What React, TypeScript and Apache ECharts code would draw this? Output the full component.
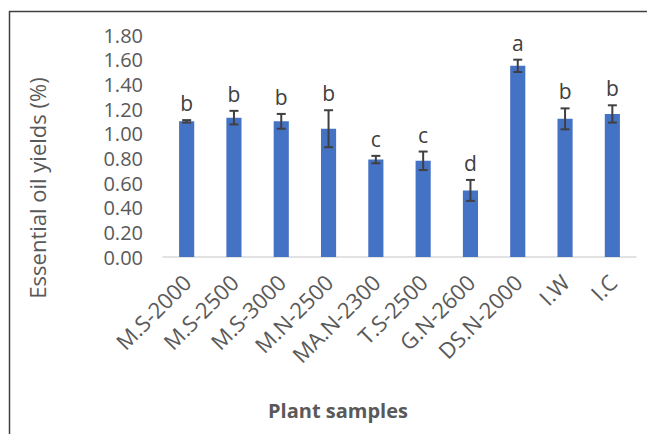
import React, { useEffect, useRef } from "react";
import * as echarts from "echarts";

const categories = ["M.S-2000", "M.S-2500", "M.S-3000", "M.N-2500", "MA.N-2300", "T.S-2500", "G.N-2600", "DS.N-2000", "I.W", "I.C"];
const yields = [1.1, 1.13, 1.1, 1.04, 0.79, 0.78, 0.54, 1.55, 1.12, 1.16];
const errors = [0.01, 0.055, 0.06, 0.15, 0.03, 0.075, 0.085, 0.05, 0.085, 0.07];
const letters = ["b", "b", "b", "b", "c", "c", "d", "a", "b", "b"];
const yTicks = { min: 0, max: 1.8, interval: 0.2 };

const FONT = "'Open Sans', 'Noto Sans', sans-serif";

export default function App() {
  const ref = useRef<HTMLDivElement>(null);
  useEffect(() => {
    if (!ref.current) return;
    const chart = echarts.init(ref.current, null, { renderer: "svg" });
    const errData = yields.map((v, i) => [i, v, errors[i]]);
    chart.setOption({
      animation: false,
      backgroundColor: "#ffffff",
      grid: { left: 163, right: 11, top: 35, bottom: 177 },
      xAxis: {
        type: "category",
        data: categories,
        axisLine: { show: true, lineStyle: { color: "#d9d9d9", width: 1.5 } },
        axisTick: { show: false },
        axisLabel: { rotate: 45, color: "#595959", fontSize: 22, fontFamily: FONT, margin: 21, interval: 0 },
      },
      yAxis: {
        type: "value",
        min: yTicks.min,
        max: yTicks.max,
        interval: yTicks.interval,
        axisLine: { show: false },
        axisTick: { show: false },
        splitLine: { show: false },
        axisLabel: {
          color: "#595959",
          fontSize: 20,
          fontFamily: FONT,
          margin: 20,
          formatter: (v: number) => v.toFixed(2),
        },
      },
      series: [
        {
          type: "bar",
          data: yields,
          barWidth: "32%",
          itemStyle: { color: "#4472C4" },
          z: 2,
        },
        {
          type: "custom",
          data: errData,
          z: 3,
          renderItem: (params: any, api: any) => {
            const i = api.value(0);
            const v = api.value(1);
            const e = api.value(2);
            const letter = letters[params.dataIndex];
            const top = api.coord([i, v + e]);
            const bot = api.coord([i, v - e]);
            const x = top[0];
            const half = 4.5;
            const st = { stroke: "#404040", lineWidth: 2 };
            return {
              type: "group",
              children: [
                { type: "line", shape: { x1: x, y1: top[1], x2: x, y2: bot[1] }, style: st },
                { type: "line", shape: { x1: x - half, y1: top[1], x2: x + half, y2: top[1] }, style: st },
                { type: "line", shape: { x1: x - half, y1: bot[1], x2: x + half, y2: bot[1] }, style: st },
                {
                  type: "text",
                  x: x,
                  y: top[1] - 17,
                  style: {
                    text: letter,
                    fill: "#404040",
                    fontSize: 21,
                    fontFamily: FONT,
                    align: "center",
                    verticalAlign: "middle",
                  },
                },
              ],
            };
          },
        },
      ],
      graphic: [
        { type: "line", shape: { x1: 9.5, y1: 11, x2: 9.5, y2: 434 }, style: { stroke: "#404040", lineWidth: 1.5 } },
        { type: "line", shape: { x1: 9, y1: 11.5, x2: 647, y2: 11.5 }, style: { stroke: "#404040", lineWidth: 1.5 } },
        {
          type: "text",
          x: 37,
          y: 188,
          rotation: Math.PI / 2,
          style: {
            text: "Essential oil yields (%)",
            fill: "#595959",
            fontSize: 22,
            fontFamily: FONT,
            align: "center",
            verticalAlign: "middle",
          },
        },
        {
          type: "text",
          x: 338,
          y: 410,
          style: {
            text: "Plant samples",
            fill: "#595959",
            fontSize: 20,
            fontWeight: "bold",
            fontFamily: FONT,
            align: "center",
            verticalAlign: "middle",
          },
        },
      ],
    });
    return () => chart.dispose();
  }, []);
  return <div ref={ref} style={{ width: 647, height: 434, position: "absolute", left: 0, top: 0 }} />;
}
